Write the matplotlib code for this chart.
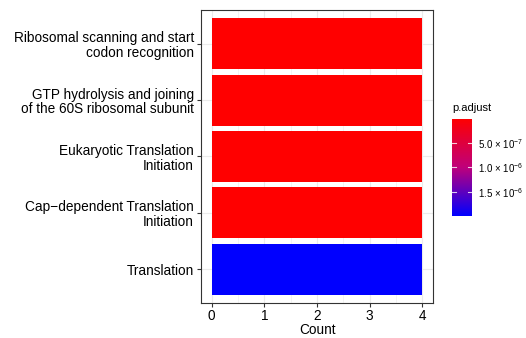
import numpy as np
import matplotlib.pyplot as plt
import matplotlib.colors as mcolors

plt.rcParams['font.family'] = ['Liberation Sans', 'DejaVu Sans']
plt.rcParams['mathtext.fontset'] = 'custom'
plt.rcParams['mathtext.rm'] = 'Liberation Sans'
plt.rcParams['mathtext.it'] = 'Liberation Sans:italic'

# pathway terms (bottom to top) with gene counts and adjusted p-values
terms = ['Translation',
         'Cap\u2212dependent Translation\nInitiation',
         'Eukaryotic Translation\nInitiation',
         'GTP hydrolysis and joining\nof the 60S ribosomal subunit',
         'Ribosomal scanning and start\ncodon recognition']
counts = [4, 4, 4, 4, 4]
p_adjust = [2.0e-6, 5e-9, 5e-9, 5e-9, 5e-9]

cmap = mcolors.LinearSegmentedColormap.from_list('padj', ['#FF0000', '#C0007A', '#0000FF'])
norm = mcolors.Normalize(vmin=min(p_adjust), vmax=max(p_adjust))

fig = plt.figure(figsize=(5.26, 3.38), dpi=100)
ax = fig.add_axes([201 / 526, 35 / 338, 232 / 526, 293 / 338])

y = np.arange(1, len(terms) + 1)
ax.barh(y, counts, height=0.9, color=cmap(norm(np.array(p_adjust))),
        edgecolor='none', zorder=3)

ax.set_xlim(-0.2, 4.2)
ax.set_ylim(0.4, len(terms) + 0.6)
ax.set_xticks([0, 1, 2, 3, 4])
ax.set_xticks([0.5, 1.5, 2.5, 3.5], minor=True)
ax.set_yticks(y)
ax.set_yticklabels(terms, fontsize=9.8, color='black', ha='right', linespacing=1.05)
ax.tick_params(axis='x', labelsize=9.8, colors='#333333', labelcolor='black',
               length=3, width=0.8, pad=1)
ax.tick_params(axis='y', colors='#333333', labelcolor='black', length=3,
               width=0.8, pad=2)
ax.tick_params(which='minor', length=0)
ax.grid(which='major', color='#EBEBEB', linewidth=0.8, zorder=0)
ax.grid(which='minor', axis='x', color='#EBEBEB', linewidth=0.4, zorder=0)
ax.set_axisbelow(True)
for s in ax.spines.values():
    s.set_color('#333333')
    s.set_linewidth(0.8)
ax.set_xlabel('Count', fontsize=9.8, labelpad=0)

# colour legend, small values on top
cax = fig.add_axes([452 / 526, 122 / 338, 20 / 526, 97 / 338])
grad = np.linspace(norm.vmin, norm.vmax, 256).reshape(-1, 1)
cax.imshow(grad, aspect='auto', cmap=cmap, norm=norm,
           extent=[0, 1, norm.vmax, norm.vmin])
cax.set_ylim(norm.vmax, norm.vmin)
cax.set_xlim(0, 1)
cbar_ticks = [5e-7, 1e-6, 1.5e-6]
cbar_labels = [r'5.0 $\times$ 10$^{-7}$', r'1.0 $\times$ 10$^{-6}$', r'1.5 $\times$ 10$^{-6}$']
for t in cbar_ticks:
    cax.plot([0, 0.2], [t, t], color='white', lw=0.8, alpha=0.8)
    cax.plot([0.8, 1], [t, t], color='white', lw=0.8, alpha=0.8)
cax.set_yticks(cbar_ticks)
cax.set_yticklabels(cbar_labels, fontsize=7)
cax.yaxis.tick_right()
cax.tick_params(axis='y', length=0, pad=4)
cax.set_xticks([])
for s in cax.spines.values():
    s.set_visible(False)
fig.text(452 / 526, 1 - 108 / 338, 'p.adjust', fontsize=8, va='center', ha='left')

fig.savefig('out.png', dpi=100)
